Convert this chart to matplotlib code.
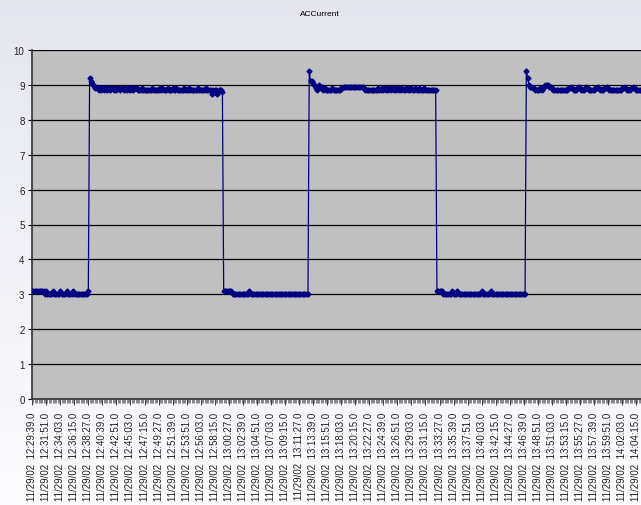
import matplotlib
matplotlib.use("Agg")
import matplotlib.pyplot as plt
import numpy as np
from matplotlib.ticker import FixedLocator

# ---- data ----
seg1_low = [3.1, 3.1, 3.1, 3.1, 3.1, 3.1, 3.1, 3.1, 3.1, 3.1,
            3.0, 3.1, 3.0, 3.0, 3.0, 3.0, 3.1, 3.0, 3.0, 3.0,
            3.0, 3.0, 3.1, 3.0, 3.0, 3.0, 3.0, 3.1, 3.0, 3.0,
            3.0, 3.0, 3.1, 3.0, 3.0, 3.0, 3.0, 3.0, 3.0, 3.0,
            3.0, 3.0, 3.0, 3.0, 3.1]
seg2_high = [9.2, 9.1, 9.05, 9.0, 8.9, 8.95, 8.9, 8.85, 8.9, 8.85, 8.9, 8.85, 8.9, 8.9, 8.85,
             8.9, 8.85, 8.9, 8.9, 8.85, 8.9, 8.85, 8.9, 8.9, 8.85, 8.9, 8.9, 8.85, 8.9, 8.85,
             8.9, 8.9, 8.85, 8.9, 8.85, 8.9, 8.9, 8.9, 8.85, 8.85, 8.85, 8.9, 8.85, 8.85, 8.85,
             8.85, 8.85, 8.85, 8.85, 8.9, 8.85, 8.85, 8.85, 8.85, 8.85, 8.9, 8.85, 8.9, 8.85, 8.85,
             8.85, 8.9, 8.85, 8.85, 8.85, 8.9, 8.85, 8.85, 8.9, 8.85, 8.85, 8.85, 8.85, 8.85, 8.9,
             8.85, 8.85, 8.85, 8.9, 8.85, 8.85, 8.85, 8.85, 8.85, 8.85, 8.9, 8.85, 8.85, 8.85, 8.85,
             8.85, 8.9, 8.85, 8.85, 8.85, 8.85, 8.75, 8.85, 8.85, 8.85, 8.75, 8.85, 8.85, 8.85, 8.8]
seg3_low = [3.1, 3.1, 3.1, 3.1, 3.1, 3.1, 3.1,
            3.0, 3.0, 3.0, 3.0, 3.0, 3.0, 3.0, 3.0, 3.0, 3.0, 3.0, 3.0, 3.0,
            3.1,
            3.0, 3.0, 3.0, 3.0, 3.0, 3.0, 3.0, 3.0, 3.0, 3.0, 3.0, 3.0, 3.0, 3.0, 3.0, 3.0,
            3.0, 3.0, 3.0, 3.0, 3.0, 3.0, 3.0, 3.0, 3.0, 3.0, 3.0, 3.0, 3.0, 3.0, 3.0, 3.0,
            3.0, 3.0, 3.0, 3.0, 3.0, 3.0, 3.0, 3.0, 3.0, 3.0, 3.0, 3.0, 3.0, 3.0]
seg4_high = [9.4, 9.1, 9.1, 9.05, 9.0, 8.9, 8.85, 8.95, 9.0, 8.9,
             8.95, 8.85, 8.9, 8.85, 8.85, 8.85, 8.85, 8.85, 8.9, 8.85,
             8.85, 8.85, 8.85, 8.85, 8.85, 8.9, 8.9, 8.95, 8.95, 8.95,
             8.95, 8.95, 8.95, 8.95, 8.95, 8.95, 8.95, 8.95, 8.95, 8.95,
             8.95, 8.95, 8.95, 8.9, 8.85, 8.85, 8.85, 8.85, 8.85, 8.85,
             8.85, 8.85, 8.85, 8.85, 8.9, 8.85, 8.85, 8.9, 8.85, 8.9,
             8.85, 8.9, 8.85, 8.9, 8.85, 8.9, 8.85, 8.9, 8.85, 8.9,
             8.85, 8.9, 8.85, 8.9, 8.85, 8.85, 8.9, 8.85, 8.9, 8.85,
             8.9, 8.85, 8.85, 8.9, 8.85, 8.85, 8.9, 8.85, 8.85, 8.85,
             8.9, 8.85, 8.85, 8.85, 8.85, 8.85, 8.85, 8.85, 8.85, 8.85]
seg5_low = [3.1, 3.1, 3.1, 3.1, 3.1,
            3.0, 3.0, 3.0, 3.0, 3.0, 3.0, 3.0,
            3.1, 3.0, 3.0, 3.0, 3.1,
            3.0, 3.0, 3.0, 3.0, 3.0, 3.0, 3.0, 3.0, 3.0, 3.0, 3.0, 3.0, 3.0, 3.0, 3.0, 3.0, 3.0, 3.0,
            3.1, 3.0, 3.0, 3.0, 3.0, 3.0, 3.0, 3.1,
            3.0, 3.0, 3.0, 3.0, 3.0, 3.0, 3.0, 3.0, 3.0, 3.0, 3.0, 3.0, 3.0, 3.0,
            3.0, 3.0, 3.0, 3.0, 3.0, 3.0, 3.0, 3.0, 3.0, 3.0, 3.0, 3.0, 3.0]
seg6_high = [9.4, 9.2, 9.0, 8.95, 8.95, 8.9, 8.9, 8.85, 8.85, 8.85,
             8.85, 8.9, 8.85, 8.9, 8.95, 9.0, 9.0, 9.0, 8.95, 8.95,
             8.9, 8.85, 8.85, 8.85, 8.85, 8.85, 8.85, 8.85, 8.85, 8.85,
             8.85, 8.85, 8.85, 8.9, 8.9, 8.95, 8.9, 8.85, 8.85, 8.85,
             8.9, 8.95, 8.9, 8.85, 8.85, 8.85, 8.9, 8.95, 8.9, 8.85,
             8.85, 8.85, 8.85, 8.85, 8.9, 8.9, 8.95, 8.9, 8.85, 8.85,
             8.85, 8.9, 8.9, 8.95, 8.9, 8.85, 8.85, 8.85, 8.85, 8.85,
             8.85, 8.85, 8.85, 8.85, 8.85, 8.9, 8.9, 8.95, 8.9, 8.85,
             8.85, 8.85, 8.9, 8.9, 8.95, 8.9, 8.85, 8.85, 8.85, 8.85,
             8.85, 8.85, 8.85, 8.85]

tick_labels = [
    "11/29/02  12:29:39.0", "11/29/02  12:31:51.0", "11/29/02  12:34:03.0", "11/29/02  12:36:15.0",
    "11/29/02  12:38:27.0", "11/29/02  12:40:39.0", "11/29/02  12:42:51.0", "11/29/02  12:45:03.0",
    "11/29/02  12:47:15.0", "11/29/02  12:49:27.0", "11/29/02  12:51:39.0", "11/29/02  12:53:51.0",
    "11/29/02  12:56:03.0", "11/29/02  12:58:15.0", "11/29/02  13:00:27.0", "11/29/02  13:02:39.0",
    "11/29/02  13:04:51.0", "11/29/02  13:07:03.0", "11/29/02  13:09:15.0", "11/29/02  13:11:27.0",
    "11/29/02  13:13:39.0", "11/29/02  13:15:51.0", "11/29/02  13:18:03.0", "11/29/02  13:20:15.0",
    "11/29/02  13:22:27.0", "11/29/02  13:24:39.0", "11/29/02  13:26:51.0", "11/29/02  13:29:03.0",
    "11/29/02  13:31:15.0", "11/29/02  13:33:27.0", "11/29/02  13:35:39.0", "11/29/02  13:37:51.0",
    "11/29/02  13:40:03.0", "11/29/02  13:42:15.0", "11/29/02  13:44:27.0", "11/29/02  13:46:39.0",
    "11/29/02  13:48:51.0", "11/29/02  13:51:03.0", "11/29/02  13:53:15.0", "11/29/02  13:55:27.0",
    "11/29/02  13:57:39.0", "11/29/02  13:59:51.0", "11/29/02  14:02:03.0", "11/29/02  14:04:15.0",
]
label_step = 11  # one label every 11 samples

current = seg1_low + seg2_high + seg3_low + seg4_high + seg5_low + seg6_high
idx = np.arange(len(current))

plt.rcParams['font.family'] = ['Liberation Sans', 'DejaVu Sans']

W, H = 641, 506
fig = plt.figure(figsize=(W / 100, H / 100), dpi=100)

# background gradient
bg = fig.add_axes([0, 0, 1, 1], zorder=-10)
grad = np.linspace(0, 1, 256).reshape(-1, 1)
top = np.array([0.898, 0.898, 0.937])
bot = np.array([0.99, 0.99, 1.0])
img = top[None, None, :] * (1 - grad[:, :, None]) + bot[None, None, :] * grad[:, :, None]
bg.imshow(img, aspect='auto', extent=[0, 1, 0, 1], origin='upper')
bg.set_axis_off()

left_px, right_px, top_px, bottom_px = 31.5, 641.0, 51.0, 400.0
ax = fig.add_axes([left_px / W, 1 - bottom_px / H, (right_px - left_px) / W, (bottom_px - top_px) / H])
ax.set_facecolor('#C0C0C0')

ax.plot(idx, current, color='#000080', lw=0.9, marker='D', markersize=2.5,
        markerfacecolor='#000080', markeredgecolor='#000080', zorder=3)

dx = 1.277
ax.set_xlim(-0.5, -0.5 + (right_px - left_px) / dx)
ax.set_ylim(0, 10)

ax.set_yticks(range(0, 11))
ax.yaxis.grid(True, color='#000000', lw=0.9)
ax.set_axisbelow(True)

major = [k * label_step for k in range(len(tick_labels))]
ax.set_xticks(major)
ax.set_xticklabels(tick_labels, rotation=90, fontsize=7.0, va='top', ha='center', color='#222222')
ax.xaxis.set_minor_locator(FixedLocator(list(idx)))
ax.tick_params(axis='x', which='major', length=4, width=0.6, color='#222222', pad=5)
ax.tick_params(axis='x', which='minor', length=3, width=0.4, color='#333333')
ax.tick_params(axis='y', which='major', length=3, width=0.8, labelsize=7, pad=2, labelcolor='#222222')

for s in ['top', 'right']:
    ax.spines[s].set_visible(False)
ax.spines['left'].set_color('#333333')
ax.spines['bottom'].set_color('#333333')
ax.spines['left'].set_linewidth(1.2)
ax.spines['bottom'].set_linewidth(1.2)

fig.text(320 / W, 1 - 15 / H, 'ACCurrent', ha='center', va='center', fontsize=6)

fig.savefig('out.png', dpi=100)
